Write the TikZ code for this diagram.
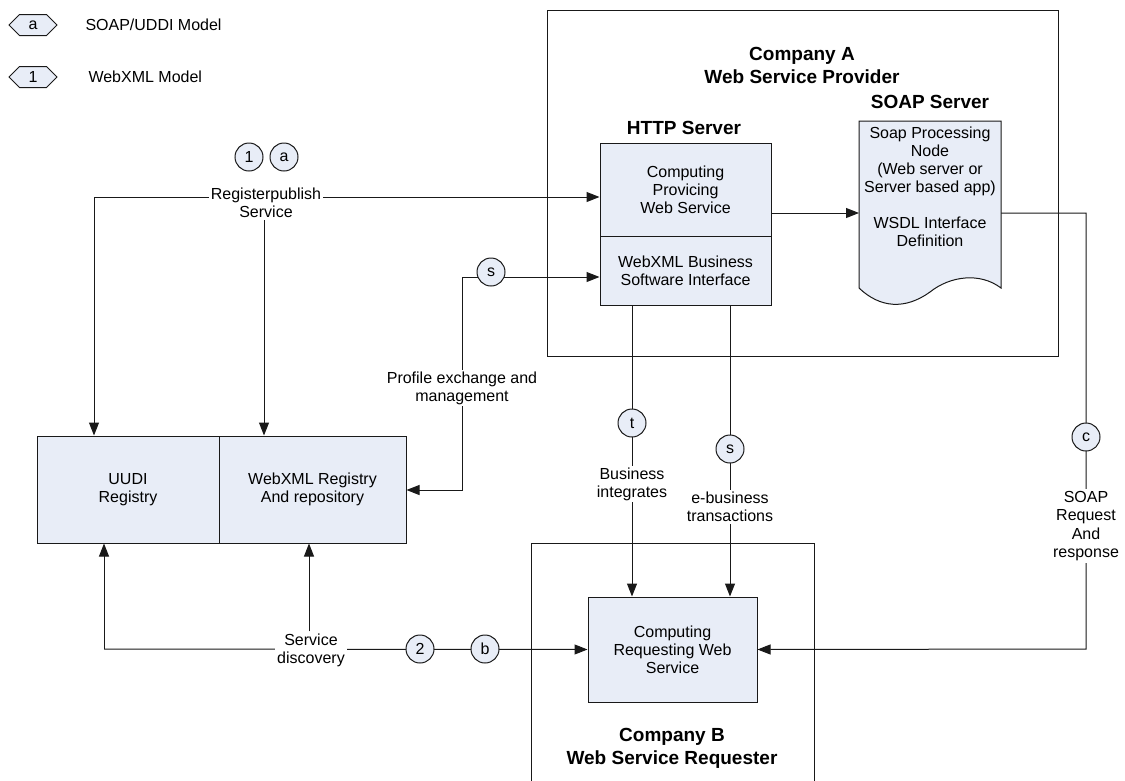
\documentclass[tikz,border=0pt]{standalone}
\usepackage{fontspec}
\setmainfont{Liberation Sans}
\usetikzlibrary{shapes.symbols,arrows.meta}
\definecolor{boxfill}{RGB}{232,237,247}
\definecolor{edge}{RGB}{25,25,25}
\pgfdeclarelayer{bg}
\pgfsetlayers{bg,main}
\begin{document}
\begin{tikzpicture}[x=1pt,y=-1pt,
  every node/.style={font=\fontsize{16}{18}\selectfont, align=center, text=black},
  blk/.style={draw=edge, fill=boxfill, line width=1pt, inner sep=0pt},
  mk/.style={circle, draw=edge, fill=boxfill, minimum size=28pt, inner sep=0pt, line width=1pt},
  hexa/.style={signal, signal to=east and west, draw=edge, fill=boxfill, minimum width=48pt, minimum height=21pt, inner sep=0pt, line width=1pt},
  ttl/.style={font=\fontsize{19}{23}\selectfont\bfseries},
  lbl/.style={inner sep=2pt, fill=white},
  frame/.style={draw=edge, line width=1pt, inner sep=0pt},
  conn/.style={draw=edge, line width=1pt},
  arr/.style={conn, -{Triangle[length=13pt,width=10pt]}},
]
\useasboundingbox (0,0) rectangle (1125,780);

% legend
\node[hexa] (lga) at (33,25) {a};
\node[anchor=west] (lgat) at (82,25) {SOAP/UDDI Model};
\node[hexa] (lg1) at (33,77) {1};
\node[anchor=west] (lg1t) at (85,77) {WebXML Model};

% containers
\node[frame, minimum width=511pt, minimum height=346pt] (ca) at (802.5,183) {};
\node[frame, minimum width=283pt, minimum height=274pt] (cb) at (672.5,680) {};
\node[ttl] (catitle) at (802,65) {Company A\\Web Service Provider};
\node[ttl] (cbtitle) at (672,748) {Company B\\Web Service Requester};
\node[ttl] (httpt) at (684,128) {HTTP Server};
\node[ttl] (soapt) at (930,102) {SOAP Server};

% HTTP server
\node[blk, minimum width=171pt, minimum height=93pt] (cps) at (685.5,189.5) {Computing\\Provicing\\Web Service};
\node[blk, minimum width=171pt, minimum height=69pt] (wbi) at (685.5,270.5) {WebXML Business\\Software Interface};

% SOAP document
\draw[blk] (859,121) -- (1001,121) -- (1001,288)
  .. controls (980,272) and (950,276) .. (930,292)
  .. controls (905,310) and (880,308) .. (859,288) -- cycle;
\coordinate (docw) at (859,213);
\coordinate (doce) at (1001,213);
\node (spn) at (930,161) {Soap Processing\\Node\\(Web server or\\Server based app)};
\node (wsdl) at (930,232) {WSDL Interface\\Definition};

% registries
\node[blk, minimum width=182pt, minimum height=107pt] (uudi) at (128,489.5) {UUDI\\Registry};
\node[blk, minimum width=187pt, minimum height=107pt] (wreg) at (312.5,489.5) {WebXML Registry\\And repository};

% requesting service
\node[blk, minimum width=169pt, minimum height=105pt] (crs) at (672.5,649.5) {Computing\\Requesting Web\\Service};

% markers
\node[mk] (m1) at (249,157) {1};
\node[mk] (ma) at (284,157) {a};
\node[mk] (ms1) at (491,272) {s};
\node[mk] (mt) at (632,423) {t};
\node[mk] (ms2) at (730,449) {s};
\node[mk] (mc) at (1086,437) {c};
\node[mk] (m2) at (420,649) {2};
\node[mk] (mb) at (485,649) {b};

% labels
\node[lbl] (rp) at (266,203) {Registerpublish\\Service};
\node[lbl] (pe) at (462,388) {Profile exchange and\\management};
\node[lbl] (bi) at (632,484) {Business\\integrates};
\node[lbl] (eb) at (730,507) {e-business\\transactions};
\node[lbl, font=\fontsize{16}{18.3}\selectfont] (sr) at (1086,526) {SOAP\\Request\\And\\response};
\node[lbl] (sd) at (311,650) {Service\\discovery};

\coordinate (rpc) at (94,197);
\coordinate (pe1) at (462,277);
\coordinate (pe2) at (462,490);
\coordinate (sd1) at (104,649);
\coordinate (rc1) at (1086,213);
\coordinate (rc2) at (1086,649);

\begin{pgfonlayer}{bg}
  % register / publish
  \draw[arr] (rpc) -- (uudi.north -| rpc);
  \draw[arr] (rpc) -- (cps.west |- rpc);
  \draw[arr] (rp.south -| 264,0) -- (wreg.north -| 264,0);
  % profile exchange
  \draw[arr] (pe1) -- (wbi.west |- pe1);
  \draw[arr] (pe1) -- (pe2) -- (wreg.east |- pe2);
  % service discovery
  \draw[arr] (sd1) -- (uudi.south -| sd1);
  \draw[arr] (sd1) -- (crs.west);
  \draw[arr] (sd.north -| 309,0) -- (wreg.south -| 309,0);
  % business integrates / e-business
  \draw[arr] (wbi.south -| mt) -- (crs.north -| mt);
  \draw[arr] (wbi.south -| ms2) -- (crs.north -| ms2);
  % HTTP -> SOAP -> requester
  \draw[arr] (cps.east |- docw) -- (docw);
  \draw[conn] (docw) -- (doce);
  \draw[arr] (doce) -- (rc1) -- (rc2) -- (crs.east);
\end{pgfonlayer}
\end{tikzpicture}
\end{document}
